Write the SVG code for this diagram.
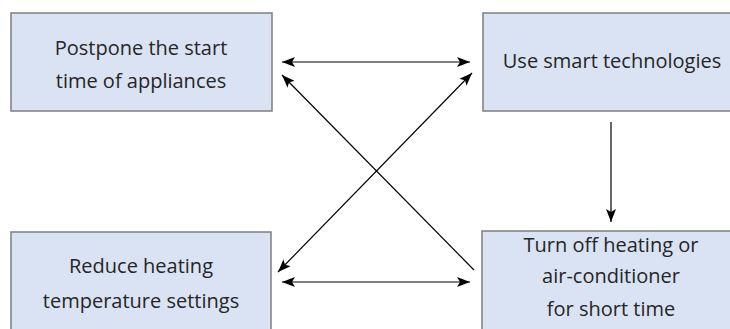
<svg xmlns="http://www.w3.org/2000/svg" width="730" height="329" viewBox="0 0 730 329">
  <style>
    .box { fill: #dae3f3; stroke: #7f7f7f; stroke-width: 1.5; }
    .lbl { font-family: "Open Sans", "Noto Sans", sans-serif; font-size: 20px; fill: #262626; text-anchor: middle; }
    .link { stroke: #000; stroke-width: 1.2; fill: none; }
  </style>
  <defs>
    <marker id="arrow" viewBox="0 0 13 10" refX="13" refY="5" markerWidth="13" markerHeight="10" markerUnits="userSpaceOnUse" orient="auto-start-reverse">
      <path d="M0,0 L13,5 L0,10 L3,5 z" fill="#000"/>
    </marker>
  </defs>
  <rect width="730" height="329" fill="#fff"/>

  <g id="postpone">
    <rect class="box" x="11" y="13" width="261" height="98"/>
    <text class="lbl" x="141" y="55">Postpone the start</text>
    <text class="lbl" x="141" y="88">time of appliances</text>
  </g>

  <g id="smart-tech">
    <rect class="box" x="483" y="13" width="260" height="98"/>
    <text class="lbl" x="612" y="68">Use smart technologies</text>
  </g>

  <g id="reduce-heating">
    <rect class="box" x="11" y="232" width="260" height="110"/>
    <text class="lbl" x="141" y="273">Reduce heating</text>
    <text class="lbl" x="141" y="308">temperature settings</text>
  </g>

  <g id="turn-off">
    <rect class="box" x="482" y="231" width="260" height="110"/>
    <text class="lbl" x="611" y="252">Turn off heating or</text>
    <text class="lbl" x="611" y="283">air-conditioner</text>
    <text class="lbl" x="611" y="316">for short time</text>
  </g>

  <g id="connectors">
    <line class="link" x1="282" y1="62" x2="470" y2="62" marker-start="url(#arrow)" marker-end="url(#arrow)"/>
    <line class="link" x1="282" y1="282" x2="470" y2="282" marker-start="url(#arrow)" marker-end="url(#arrow)"/>
    <line class="link" x1="474" y1="270" x2="282" y2="75" marker-end="url(#arrow)"/>
    <line class="link" x1="278" y1="272" x2="472" y2="73" marker-start="url(#arrow)" marker-end="url(#arrow)"/>
    <line class="link" x1="611" y1="122" x2="611" y2="222" marker-end="url(#arrow)"/>
  </g>
</svg>
